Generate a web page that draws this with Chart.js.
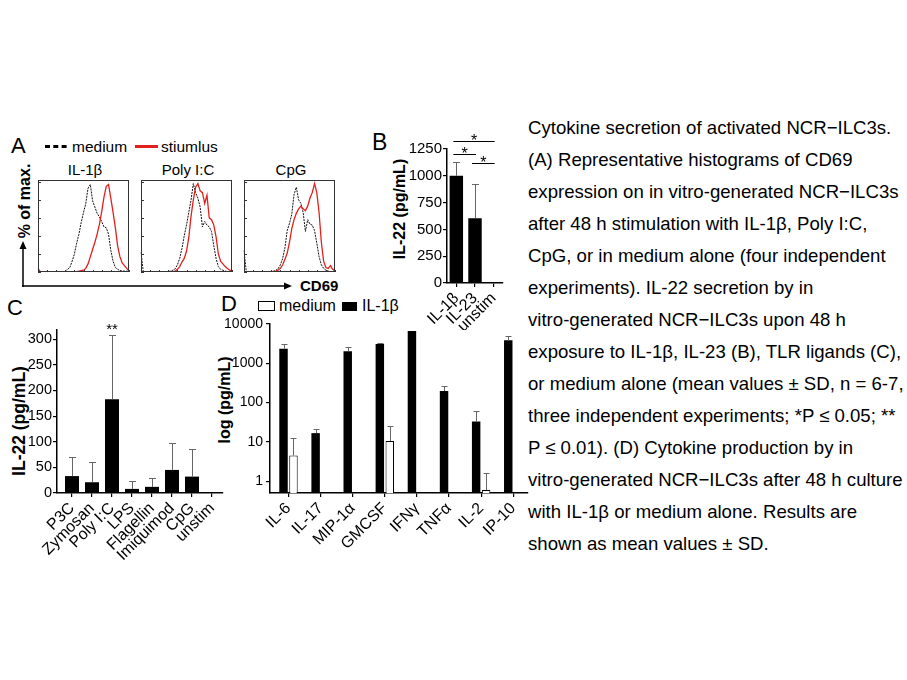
<!DOCTYPE html>
<html>
<head>
<meta charset="utf-8">
<script src="https://cdn.jsdelivr.net/npm/chart.js@4.4.1/dist/chart.umd.min.js"></script>
<style>
  body { margin: 0; background: #fff; }
  #fig { position: relative; width: 907px; height: 680px; overflow: hidden; }
  #fig canvas, #fig svg { position: absolute; }
  svg text { font-family: "Liberation Sans", Arial, Helvetica, sans-serif; fill: #000; }
</style>
</head>
<body>
<div id="fig">
  <svg id="overlay" width="907" height="680" style="left:0;top:0">
    <!-- panel A legend + axes arrows -->
    <text x="11" y="153" font-size="22">A</text>
    <line x1="45" y1="146.5" x2="68" y2="146.5" stroke="#000" stroke-width="3" stroke-dasharray="5,3.3"/>
    <text x="72" y="151.5" font-size="15.5">medium</text>
    <line x1="135" y1="146.5" x2="158" y2="146.5" stroke="#e3201b" stroke-width="3"/>
    <text x="161" y="151.5" font-size="15.5">stiumlus</text>
    <text x="85" y="175" font-size="15" text-anchor="middle">IL-1β</text>
    <text x="188" y="175" font-size="15" text-anchor="middle">Poly I:C</text>
    <text x="291" y="175" font-size="15" text-anchor="middle">CpG</text>
    <text transform="translate(24,201) rotate(-90)" dy="0.35em" font-size="16" font-weight="bold" text-anchor="middle">% of max.</text>
    <line x1="23" y1="287" x2="23" y2="247" stroke="#000" stroke-width="1.5"/>
    <polygon points="19.5,249 26.5,249 23,241" fill="#000"/>
    <line x1="22" y1="286" x2="286" y2="286" stroke="#000" stroke-width="1.5"/>
    <polygon points="284,282.5 284,289.5 292,286" fill="#000"/>
    <text x="300" y="291" font-size="15" font-weight="bold">CD69</text>
    <!-- panel B -->
    <text x="372" y="150" font-size="23">B</text>
    <text transform="translate(399,209) rotate(-90)" dy="0.35em" font-size="16" font-weight="bold" text-anchor="middle">IL-22 (pg/mL)</text>
    <!-- panel C -->
    <text x="7" y="315" font-size="22">C</text>
    <text transform="translate(19,421) rotate(-90)" dy="0.35em" font-size="17.5" font-weight="bold" text-anchor="middle">IL-22 (pg/mL)</text>
    <!-- panel D -->
    <text x="221" y="311" font-size="22">D</text>
    <rect x="258.5" y="301.5" width="16" height="9" fill="#fff" stroke="#000" stroke-width="1"/>
    <text x="279" y="311" font-size="16">medium</text>
    <rect x="342" y="302" width="15" height="9" fill="#000"/>
    <text x="362" y="311" font-size="16">IL-1β</text>
    <text transform="translate(224,400) rotate(-90)" dy="0.35em" font-size="16" font-weight="bold" text-anchor="middle">log (pg/mL)</text>
  </svg>
  <canvas id="histIL1b" width="97" height="98" style="left:35px;top:177px"></canvas>
  <canvas id="histPoly" width="97" height="98" style="left:138px;top:177px"></canvas>
  <canvas id="histCpG" width="97" height="98" style="left:241px;top:177px"></canvas>
  <canvas id="chartB" width="140" height="210" style="left:370px;top:120px"></canvas>
  <canvas id="chartC" width="230" height="270" style="left:0px;top:300px"></canvas>
  <canvas id="chartD" width="320" height="250" style="left:220px;top:315px"></canvas>
</div>

<script>
// ---- data ----

// A: CD69 histograms (% of max) on a common channel grid
const cd69Channels = [0, 2.5, 5, 7.5, 10, 12.5, 15, 17.5, 20, 22.5, 25, 27.5, 30, 32.5, 35, 37.5, 40, 42.5, 45, 47.5,
  50, 52.5, 55, 57.5, 60, 62.5, 65, 67.5, 70, 72.5, 75, 77.5, 80, 82.5, 85, 87.5, 90, 92.5, 95, 97.5, 100];
const il1bMedium = [0.5, 0.5, 0.5, 0.5, 0.5, 0.5, 0.5, 0.5, 0.5, 0.5, 0.5, 0.5, 1, 3, 5, 12, 20, 32, 42, 55,
  66, 76, 93, 97, 79, 72, 65, 61, 56, 50, 49, 42, 24, 12, 5, 3, 1.5, 1, 1, 0.8, 0.5];
const il1bStim = [4, 0.5, 0.5, 0.5, 0.5, 0.5, 0.5, 0.5, 0.5, 0.5, 0.5, 0.5, 0.5, 0.5, 0.5, 0.5, 0.5, 0.5, 1, 1.5,
  2, 4, 9, 17, 25, 33, 42, 53, 67, 83, 95, 97, 82, 66, 49, 29, 17, 10, 7, 4, 1];
const polyMedium = [22, 0.5, 0.5, 0.5, 0.5, 0.5, 0.5, 0.5, 0.5, 0.5, 0.5, 0.5, 0.5, 1, 2, 3.5, 8, 15, 26, 40,
  52, 66, 80, 98, 88, 82, 72, 50, 56, 52, 50, 45, 29, 15, 6, 3, 2, 1, 0.5, 0.5, 0.5];
const polyStim = [0.5, 0.5, 0.5, 0.5, 0.5, 0.5, 0.5, 0.5, 0.5, 0.5, 0.5, 0.5, 0.5, 0.5, 0.5, 1, 3, 6, 11, 15,
  23, 38, 62, 80, 94, 98, 90, 88, 76, 85, 60, 58, 52, 39, 20, 12, 9, 6, 4, 2, 1];
const cpgMedium = [24, 0.5, 0.5, 0.5, 0.5, 0.5, 0.5, 0.5, 0.5, 0.5, 0.5, 0.5, 0.5, 1, 2, 3.5, 8, 15, 27, 46,
  54, 64, 86, 94, 80, 76, 66, 45, 58, 53, 52, 46, 32, 17, 8, 4, 2, 1, 0.5, 0.5, 0.5];
const cpgStim = [0.5, 0.5, 0.5, 0.5, 0.5, 0.5, 0.5, 0.5, 0.5, 0.5, 0.5, 0.5, 0.5, 0.5, 1, 2, 4, 8, 14, 21,
  33, 48, 58, 65, 70, 73, 70, 68, 73, 82, 88, 98, 88, 66, 33, 12, 5, 4, 7, 3, 1];

// B: IL-22 (pg/mL)
const bLabels = ['IL-1β', 'IL-23', 'unstim'];
const bValues = [1000, 605, 0];
const bSD = [130, 320, 0];
const bBrackets = [[0, 2, 1325], [0, 1, 1205], [1, 2, 1120]]; // [from, to, height], each marked *

// C: IL-22 (pg/mL) after TLR ligands
const cLabels = ['P3C', 'Zymosan', 'Poly I:C', 'LPS', 'Flagellin', 'Imiquimod', 'CpG', 'unstim'];
const cValues = [33, 21, 183, 8, 12, 45, 32, 0];
const cSD = [38, 39, 126, 15, 18, 53, 54, 0];
const cStars = ['', '', '**', '', '', '', '', ''];

// D: cytokines, log (pg/mL)
const dLabels = ['IL-6', 'IL-17', 'MIP-1α', 'GMCSF', 'IFNγ', 'TNFα', 'IL-2', 'IP-10'];
const dIL1b = [2360, 16.7, 2020, 3100, 6650, 197, 33, 3850];
const dIL1bSD = [680, 4.3, 580, 130, 0, 67, 29, 1010];
const dMedium = [4.5, null, null, 10.5, null, null, 0.6, null];
const dMediumSD = [8.2, null, null, 14.5, null, null, 1.0, null];
const dTicks = [1, 10, 100, 1000, 10000];

// ---- chart setup ----
Chart.defaults.font.family = '"Liberation Sans", Arial, Helvetica, sans-serif';
Chart.defaults.color = '#000';
Chart.defaults.animation = false;
Chart.defaults.responsive = false;
Chart.defaults.devicePixelRatio = 1;
Chart.defaults.plugins.legend.display = false;
Chart.defaults.plugins.tooltip.enabled = false;

// frame + little inward ticks around each flow histogram
const histFrame = {
  id: 'histFrame',
  afterDraw(chart) {
    const { ctx, chartArea: a } = chart;
    const x = chart.scales.x, y = chart.scales.y;
    ctx.save();
    ctx.strokeStyle = '#333';
    ctx.lineWidth = 1;
    ctx.strokeRect(a.left + 0.5, a.top + 0.5, a.width - 1, a.height - 1);
    ctx.beginPath();
    [0, 20, 40, 60, 80, 100].forEach(v => {
      const py = Math.round(y.getPixelForValue(v)) + 0.5;
      ctx.moveTo(a.left, py); ctx.lineTo(a.left + 3, py);
    });
    cd69Channels.forEach((c, i) => {
      if (i % 4 !== 0) return;
      const px = Math.round(x.getPixelForValue(i)) + 0.5;
      ctx.moveTo(px, a.bottom); ctx.lineTo(px, a.bottom - 2);
    });
    ctx.stroke();
    ctx.restore();
  }
};

function histogram(id, medium, stim) {
  new Chart(document.getElementById(id), {
    type: 'line',
    data: {
      labels: cd69Channels,
      datasets: [
        { data: stim, borderColor: '#e3201b', borderWidth: 1.3, pointRadius: 0, tension: 0 },
        { data: medium, borderColor: '#111', borderWidth: 1, borderDash: [2, 1], pointRadius: 0, tension: 0 }
      ]
    },
    options: {
      layout: { padding: 3 },
      scales: {
        x: { display: false },
        y: { display: false, min: 0, max: 102 }
      }
    },
    plugins: [histFrame]
  });
}

histogram('histIL1b', il1bMedium, il1bStim);
histogram('histPoly', polyMedium, polyStim);
histogram('histCpG', cpgMedium, cpgStim);

// gray SD whiskers (upper half only, like Prism)
const errorBars = {
  id: 'errorBars',
  afterDatasetsDraw(chart, args, opts) {
    const ctx = chart.ctx, ys = chart.scales.y;
    chart.data.datasets.forEach((ds, di) => {
      if (!ds.errors) return;
      const meta = chart.getDatasetMeta(di);
      meta.data.forEach((bar, i) => {
        const v = meta.controller.getParsed(i).y;
        const sd = ds.errors[i];
        if (v == null || !sd) return;
        const top = Math.round(ys.getPixelForValue(v + sd)) + 0.5;
        const x = Math.round(bar.x) + 0.5;
        ctx.save();
        ctx.strokeStyle = '#666';
        ctx.lineWidth = 1;
        ctx.beginPath();
        ctx.moveTo(x, bar.y); ctx.lineTo(x, top);
        ctx.moveTo(x - opts.cap, top); ctx.lineTo(x + opts.cap, top);
        ctx.stroke();
        ctx.restore();
      });
    });
  }
};

function axis(extra) {
  return Object.assign({
    border: { display: true, color: '#000', width: 1.5 },
    grid: { drawOnChartArea: false, color: '#000', lineWidth: 1.2, tickLength: 4, offset: false }
  }, extra);
}

// B
new Chart(document.getElementById('chartB'), {
  type: 'bar',
  data: {
    labels: bLabels,
    datasets: [{ data: bValues, backgroundColor: '#000', errors: bSD, barPercentage: 0.72, categoryPercentage: 1 }]
  },
  options: {
    layout: { padding: { top: 29, right: 7, left: 0, bottom: 0 } },
    scales: {
      x: axis({
        ticks: { autoSkip: false, minRotation: 45, maxRotation: 45, padding: 2, font: { size: 16 } },
        afterFit: s => { s.height = 47; s.paddingLeft = 0; s.paddingRight = 0; }
      }),
      y: axis({
        min: 0, max: 1250,
        ticks: { stepSize: 250, padding: 1, font: { size: 15 }, callback: v => String(v) },
        afterFit: s => { s.width = 77; s.paddingTop = 0; s.paddingBottom = 0; }
      })
    },
    plugins: { errorBars: { cap: 3.5 } }
  },
  plugins: [errorBars, {
    id: 'brackets',
    afterDatasetsDraw(chart) {
      const { ctx } = chart, xs = chart.scales.x, ys = chart.scales.y;
      ctx.save();
      ctx.strokeStyle = '#000';
      ctx.lineWidth = 1;
      ctx.fillStyle = '#000';
      ctx.font = '16px "Liberation Sans", Arial, sans-serif';
      ctx.textAlign = 'center';
      bBrackets.forEach(([i, j, level]) => {
        const x1 = xs.getPixelForValue(i) - 3, x2 = xs.getPixelForValue(j) + 1;
        const y = Math.round(ys.getPixelForValue(level)) + 0.5;
        ctx.beginPath(); ctx.moveTo(x1, y); ctx.lineTo(x2, y); ctx.stroke();
        ctx.fillText('*', (x1 + x2) / 2, y + 4);
      });
      ctx.restore();
    }
  }]
});

// C
new Chart(document.getElementById('chartC'), {
  type: 'bar',
  data: {
    datasets: [{
      data: cValues.map((v, i) => ({ x: i, y: v })),
      backgroundColor: '#000', errors: cSD, barPercentage: 0.7, categoryPercentage: 1
    }]
  },
  options: {
    layout: { padding: { top: 30, right: 7, left: 0, bottom: 0 } },
    scales: {
      x: axis({
        type: 'linear', min: -0.75, max: 7.55, offset: false,
        afterBuildTicks: s => { s.ticks = cLabels.map((_, i) => ({ value: i })); },
        ticks: { autoSkip: false, minRotation: 45, maxRotation: 45, padding: 2, font: { size: 16 },
          callback: v => cLabels[v] },
        afterFit: s => { s.height = 77; s.paddingLeft = 0; s.paddingRight = 0; }
      }),
      y: axis({
        min: 0, max: 318,
        ticks: { stepSize: 50, includeBounds: false, padding: 1, font: { size: 14.5 } },
        afterFit: s => { s.width = 57; s.paddingTop = 0; s.paddingBottom = 0; }
      })
    },
    plugins: { errorBars: { cap: 3.5 } }
  },
  plugins: [errorBars, {
    id: 'stars',
    afterDatasetsDraw(chart) {
      const { ctx } = chart, ys = chart.scales.y;
      const meta = chart.getDatasetMeta(0);
      ctx.save();
      ctx.fillStyle = '#000';
      ctx.font = '15px "Liberation Sans", Arial, sans-serif';
      ctx.textAlign = 'center';
      cStars.forEach((s, i) => {
        if (!s) return;
        ctx.fillText(s, meta.data[i].x, ys.getPixelForValue(cValues[i] + cSD[i]) - 1);
      });
      ctx.restore();
    }
  }]
});

// D
new Chart(document.getElementById('chartD'), {
  type: 'bar',
  data: {
    datasets: [
      { label: 'IL-1β', data: dIL1b.map((v, i) => ({ x: i, y: v })), backgroundColor: '#000',
        errors: dIL1bSD, categoryPercentage: 0.62, barPercentage: 0.85 },
      { label: 'medium', data: dMedium.map((v, i) => ({ x: i, y: v })), backgroundColor: '#fff',
        borderColor: '#000', borderWidth: 1, errors: dMediumSD, categoryPercentage: 0.62, barPercentage: 0.85 }
    ]
  },
  options: {
    layout: { padding: { top: 9, right: 12, left: 0, bottom: 0 } },
    scales: {
      x: axis({
        type: 'linear', min: -0.576, max: 7.46, offset: false,
        afterBuildTicks: s => { s.ticks = dLabels.map((_, i) => ({ value: i })); },
        ticks: { autoSkip: false, minRotation: 45, maxRotation: 45, padding: 2, font: { size: 16 },
          callback: v => dLabels[v] },
        afterFit: s => { s.height = 72; s.paddingLeft = 0; s.paddingRight = 0; }
      }),
      y: axis({
        type: 'logarithmic', min: 0.5, max: 10000,
        afterBuildTicks: s => { s.ticks = dTicks.map(v => ({ value: v })); },
        ticks: { padding: 3, font: { size: 14 }, callback: v => String(v) },
        afterFit: s => { s.width = 50; s.paddingTop = 0; s.paddingBottom = 0; }
      })
    },
    plugins: { errorBars: { cap: 3 } }
  },
  plugins: [errorBars]
});

// figure legend text
const captionLines = [
  'Cytokine secretion of activated NCR−ILC3s.',
  '(A) Representative histograms of CD69',
  'expression on in vitro-generated NCR−ILC3s',
  'after 48 h stimulation with IL-1β, Poly I:C,',
  'CpG, or in medium alone (four independent',
  'experiments). IL-22 secretion by in',
  'vitro-generated NCR−ILC3s upon 48 h',
  'exposure to IL-1β, IL-23 (B), TLR ligands (C),',
  'or medium alone (mean values ± SD, n = 6-7,',
  'three independent experiments; *P ≤ 0.05; **',
  'P ≤ 0.01). (D) Cytokine production by in',
  'vitro-generated NCR−ILC3s after 48 h culture',
  'with IL-1β or medium alone. Results are',
  'shown as mean values ± SD.'
];
const svg = document.getElementById('overlay');
captionLines.forEach((line, k) => {
  const t = document.createElementNS('http://www.w3.org/2000/svg', 'text');
  t.setAttribute('x', 528);
  t.setAttribute('y', (133.5 + 32.05 * k).toFixed(1));
  t.setAttribute('font-size', 18.6);
  t.textContent = line;
  svg.appendChild(t);
});
</script>
</body>
</html>
